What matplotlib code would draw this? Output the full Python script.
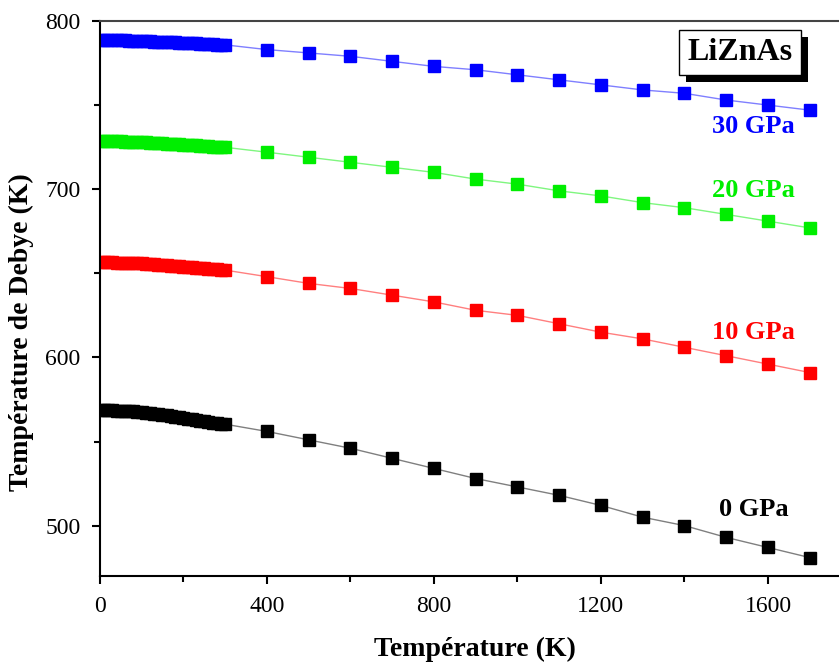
import numpy as np
import matplotlib.pyplot as plt
import matplotlib.patheffects as pe
from matplotlib.ticker import MultipleLocator

# Données
T_low = list(range(0, 310, 10))
T_high = list(range(400, 1800, 100))

theta_0_low = [568.5, 568.5, 568.5, 568.5, 568.4, 568.3, 568.2, 568.1, 567.9, 567.7,
               567.5, 567.2, 566.9, 566.6, 566.3, 566.0, 565.6, 565.2, 564.8, 564.4,
               564.0, 563.6, 563.2, 562.8, 562.4, 562.0, 561.6, 561.3, 560.9, 560.6, 560.3]
theta_0_high = [556, 551, 546, 540, 534, 528, 523, 518, 512, 505, 500, 493, 487, 481]

theta_10_low = [656.5, 656.5, 656.5, 656.5, 656.4, 656.4, 656.3, 656.2, 656.1, 656.0,
                655.9, 655.7, 655.5, 655.4, 655.2, 655.0, 654.8, 654.6, 654.4, 654.2,
                654.0, 653.8, 653.6, 653.4, 653.2, 652.9, 652.7, 652.5, 652.3, 652.1, 651.9]
theta_10_high = [648, 644, 641, 637, 633, 628, 625, 620, 615, 611, 606, 601, 596, 591]

theta_20_low = [728.5, 728.5, 728.5, 728.5, 728.4, 728.4, 728.3, 728.3, 728.2, 728.1,
                728.0, 727.9, 727.7, 727.6, 727.4, 727.3, 727.1, 727.0, 726.8, 726.7,
                726.5, 726.3, 726.2, 726.0, 725.8, 725.7, 725.5, 725.3, 725.2, 725.0, 724.9]
theta_20_high = [722, 719, 716, 713, 710, 706, 703, 699, 696, 692, 689, 685, 681, 677]

theta_30_low = [788.5, 788.5, 788.5, 788.5, 788.5, 788.4, 788.4, 788.3, 788.3, 788.2,
                788.1, 788.0, 787.9, 787.8, 787.7, 787.6, 787.5, 787.4, 787.3, 787.2,
                787.0, 786.9, 786.8, 786.7, 786.5, 786.4, 786.3, 786.1, 786.0, 785.9, 785.8]
theta_30_high = [783, 781, 779, 776, 773, 771, 768, 765, 762, 759, 757, 753, 750, 747]

labels = ['0 GPa', '10 GPa', '20 GPa', '30 GPa']
label_pos = [(1565, 509.5), (1565, 615), (1565, 699.5), (1565, 737)]
colors = ['#000000', '#ff0000', '#00ee00', '#0000ff']

series = [(theta_0_low, theta_0_high), (theta_10_low, theta_10_high),
          (theta_20_low, theta_20_high), (theta_30_low, theta_30_high)]

plt.rcParams['font.family'] = ['Liberation Serif', 'DejaVu Serif']

fig = plt.figure(figsize=(8.39, 6.66), dpi=100)
ax = fig.add_axes([0.119, 0.135, 0.881, 0.8335])

for (low, high), c, lab, (lx, ly) in zip(series, colors, labels, label_pos):
    T = T_low + T_high
    th = low + high
    ax.plot(T, th, '-', color=c, lw=1, alpha=0.5, zorder=1)
    ax.plot(T, th, 's', color=c, ms=9, mec=c, zorder=2)
    ax.text(lx, ly, lab, color=c, fontsize=19, fontweight='bold', ha='center', va='center')

ax.set_xlim(0, 1770)
ax.set_ylim(470, 800)
ax.xaxis.set_major_locator(MultipleLocator(400))
ax.xaxis.set_minor_locator(MultipleLocator(200))
ax.yaxis.set_major_locator(MultipleLocator(100))
ax.yaxis.set_minor_locator(MultipleLocator(50))
ax.tick_params(which='major', direction='out', length=6, width=1.5, labelsize=17, pad=8)
ax.tick_params(which='minor', direction='out', length=4, width=1.5)
ax.spines['right'].set_visible(False)
for s in ['left', 'bottom']:
    ax.spines[s].set_linewidth(1.5)
ax.spines['top'].set_linewidth(1.5)
ax.spines['top'].set_color('#444444')

ax.set_xlabel('Température (K)', fontsize=20, fontweight='bold', va='center')
ax.set_ylabel('Température de Debye (K)', fontsize=20, fontweight='bold', va='center')
ax.xaxis.set_label_coords(0.507, -0.133)
ax.yaxis.set_label_coords(-0.106, 0.44)

t = ax.text(1533, 781, 'LiZnAs', fontsize=23, fontweight='bold', ha='center', va='center',
            bbox=dict(boxstyle='square,pad=0.25', fc='white', ec='black', lw=1))
t.get_bbox_patch().set_path_effects([
    pe.SimplePatchShadow(offset=(5, -5), shadow_rgbFace='black', alpha=1), pe.Normal()])

fig.savefig('out.png', dpi=100)
